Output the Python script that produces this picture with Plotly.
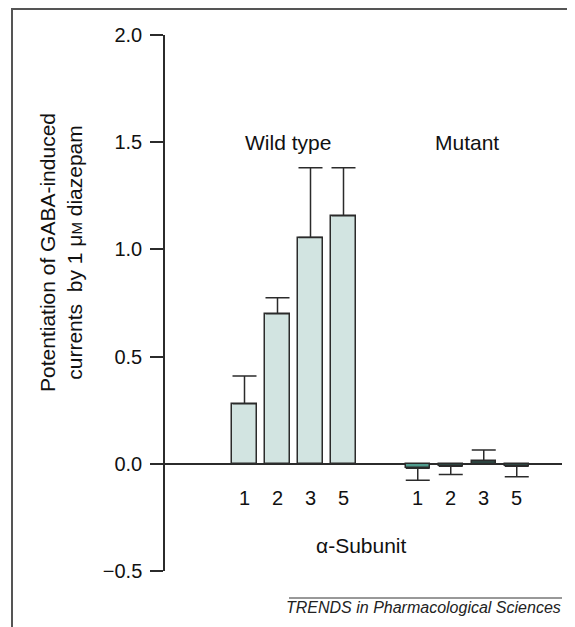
import plotly.graph_objects as go

# ---- data ----
subunit_labels = ["1", "2", "3", "5"]
wild_type_values = [0.28, 0.70, 1.055, 1.157]
wild_type_errors = [0.13, 0.075, 0.326, 0.224]
mutant_values = [-0.021, -0.012, 0.014, -0.012]
mutant_errors = [0.056, 0.038, 0.050, 0.048]
group_names = ["Wild type", "Mutant"]

# ---- layout constants ----
FONT = "Liberation Sans, Arial, Helvetica, sans-serif"
INK = "#2b2b2b"
GROUP_OFFSET = 5.25
BAR_W = 0.74
OFF = 8  # browser body margin

W, H = 575 - OFF, 627 - OFF
PL, PR, PT, PB = 165 - OFF, 562 - OFF, 35 - OFF, 571 - OFF  # plot area in figure px


def px(xp):
    return (xp - OFF - PL) / (PR - PL)


def py(yp):
    return (PB - (yp - OFF)) / (PB - PT)


wt_x = [i for i in range(len(subunit_labels))]
mu_x = [GROUP_OFFSET + i for i in range(len(subunit_labels))]

fig = go.Figure()

fig.add_trace(go.Bar(
    x=wt_x, y=wild_type_values, width=BAR_W,
    marker=dict(color="#d2e4e1", line=dict(color=INK, width=1.5)),
    error_y=dict(type="data", array=wild_type_errors, arrayminus=[0]*4,
                 symmetric=False, color=INK, thickness=1.5, width=12),
    showlegend=False, hoverinfo="skip",
))

mu_plus = [e if v > 0 else 0 for v, e in zip(mutant_values, mutant_errors)]
mu_minus = [e if v <= 0 else 0 for v, e in zip(mutant_values, mutant_errors)]
fig.add_trace(go.Bar(
    x=mu_x, y=mutant_values, width=BAR_W,
    marker=dict(color=["#4f9b8d", "#2f5f56", "#2f5f56", "#2f5f56"],
                line=dict(color=INK, width=1.5)),
    error_y=dict(type="data", array=mu_plus, arrayminus=mu_minus,
                 symmetric=False, color=INK, thickness=1.5, width=12),
    showlegend=False, hoverinfo="skip",
))

annotations = []
for xs in (wt_x, mu_x):
    for x, lab in zip(xs, subunit_labels):
        annotations.append(dict(x=x, y=-0.16, xref="x", yref="y", text=lab,
                                showarrow=False, font=dict(size=20, color="#111")))
annotations.append(dict(x=1.32, y=1.50, xref="x", yref="y", text=group_names[0],
                        showarrow=False, font=dict(size=21, color="#111")))
annotations.append(dict(x=6.73, y=1.50, xref="x", yref="y", text=group_names[1],
                        showarrow=False, font=dict(size=21, color="#111")))
annotations.append(dict(x=3.55, y=-0.38, xref="x", yref="y", text="α-Subunit",
                        showarrow=False, font=dict(size=21, color="#111")))
# y-axis title
annotations.append(dict(
    x=px(61), y=py(253), xref="paper", yref="paper",
    text="Potentiation of GABA-induced<br>currents  by 1 μ<span style='font-size:15px'>M</span> diazepam",
    textangle=-90, showarrow=False, font=dict(size=21, color="#111"),
    xanchor="center", yanchor="middle"))
# footer
annotations.append(dict(
    x=px(563), y=py(607), xref="paper", yref="paper",
    text="<i>TRENDS in Pharmacological Sciences</i>", showarrow=False,
    xanchor="right", yanchor="middle", font=dict(size=16, color="#222")))

shapes = [
    # footer rule
    dict(type="line", xref="paper", yref="paper",
         x0=px(289), x1=px(562), y0=py(598), y1=py(598),
         line=dict(color="#333", width=1)),
    # frame left
    dict(type="line", xref="paper", yref="paper",
         x0=px(12), x1=px(12), y0=py(8), y1=py(660),
         line=dict(color="#555", width=2)),
    # frame top
    dict(type="line", xref="paper", yref="paper",
         x0=px(11), x1=px(600), y0=py(9), y1=py(9),
         line=dict(color="#555", width=2)),
]

fig.update_layout(
    width=W, height=H,
    margin=dict(l=PL, r=W - PR, t=PT, b=H - PB, pad=0),
    paper_bgcolor="white", plot_bgcolor="white",
    font=dict(family=FONT, size=19, color="#111"),
    annotations=annotations, shapes=shapes,
    bargap=0,
    xaxis=dict(range=[(165 - 244.5) / 33, (562 - 244.5) / 33], showticklabels=False,
               showgrid=False, zeroline=False, showline=False, ticks=""),
    yaxis=dict(range=[-0.5, 2.0], tickvals=[-0.5, 0, 0.5, 1.0, 1.5, 2.0],
               tickformat=".1f", ticks="outside", ticklen=13, tickwidth=1.5,
               tickcolor=INK, showline=True, linecolor=INK, linewidth=1.5,
               showgrid=False, zeroline=True, zerolinecolor=INK, zerolinewidth=1.5,
               ticklabelstandoff=4,
               tickfont=dict(size=20, color="#111")),
)

fig.write_html("out.html")
